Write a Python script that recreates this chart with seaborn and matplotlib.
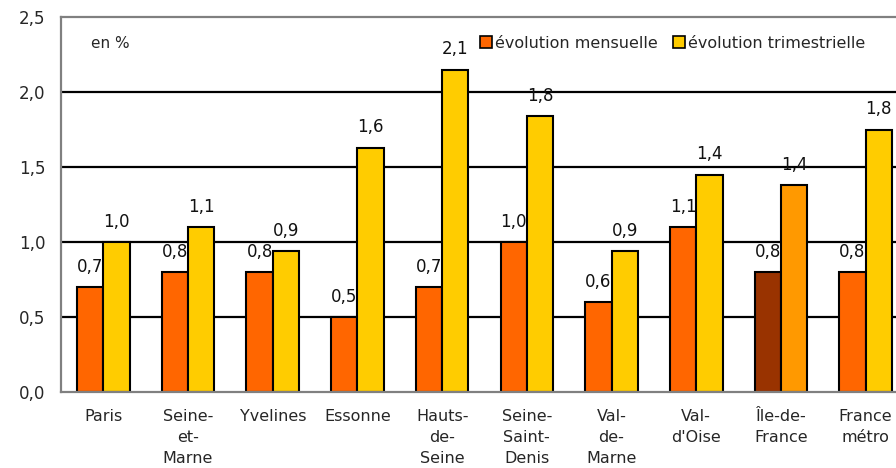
import matplotlib
matplotlib.use("Agg")
import matplotlib.pyplot as plt
import matplotlib.patches as mpatches
import seaborn as sns
import pandas as pd
import numpy as np

# Départements and aggregates, with their monthly / quarterly change (in %)
categories = ["Paris", "Seine-\net-\nMarne", "Yvelines", "Essonne", "Hauts-\nde-\nSeine",
              "Seine-\nSaint-\nDenis", "Val-\nde-\nMarne", "Val-\nd'Oise", "Île-de-\nFrance",
              "France\nmétro"]
mensuelle = [0.7, 0.8, 0.8, 0.5, 0.7, 1.0, 0.6, 1.1, 0.8, 0.8]
trimestrielle = [1.0, 1.1, 0.94, 1.63, 2.15, 1.84, 0.94, 1.45, 1.38, 1.75]
series_names = ["évolution mensuelle", "évolution trimestrielle"]
yticks = [0.0, 0.5, 1.0, 1.5, 2.0, 2.5]

series_colors = ["#FF6600", "#FFCC00"]
highlight_category = "Île-de-\nFrance"
highlight_colors = ["#993300", "#FF9900"]

df = pd.DataFrame({
    "zone": categories * 2,
    "serie": [series_names[0]] * len(categories) + [series_names[1]] * len(categories),
    "valeur": mensuelle + trimestrielle,
})

sns.set_style("white")
plt.rcParams["font.family"] = ["DejaVu Sans"]

fig = plt.figure(figsize=(8.96, 4.68), dpi=100)
ax = fig.add_axes([61 / 896, 76 / 468, 847 / 896, 375 / 468])

sns.barplot(data=df, x="zone", y="valeur", hue="serie", order=categories,
            hue_order=series_names, palette=series_colors, width=0.62,
            edgecolor="black", linewidth=1.5, saturation=1, legend=False, ax=ax)

# Highlight the regional aggregate with its own colours
hi = categories.index(highlight_category)
for k, cont in enumerate(ax.containers):
    cont.patches[hi].set_facecolor(highlight_colors[k])

# Value labels, French decimal comma
for cont in ax.containers:
    for bar in cont.patches:
        v = bar.get_height()
        ax.annotate(f"{v:.1f}".replace(".", ","),
                    (bar.get_x() + bar.get_width() / 2, v),
                    xytext=(0, 8), textcoords="offset points",
                    ha="center", va="bottom", fontsize=12, color="#111111")

ax.set_ylim(0, 2.5)
ax.set_xlim(-0.5, len(categories) - 0.5)
ax.set_yticks(yticks)
ax.set_yticklabels([f"{t:.1f}".replace(".", ",") for t in yticks], fontsize=12)
ax.set_xticks(range(len(categories)))
ax.set_xticklabels(categories, fontsize=11.5, linespacing=1.5, va="top")
ax.set_xticks(np.arange(-0.5, len(categories), 1), minor=True)
ax.tick_params(axis="x", which="major", length=0, pad=12)
ax.tick_params(axis="x", which="minor", length=5, width=1.2, color="#808080", direction="out")
ax.tick_params(axis="y", length=5, width=1.2, color="#808080", direction="out", pad=6)
ax.set_xlabel("")
ax.set_ylabel("")

for g in yticks[1:-1]:
    ax.axhline(g, color="black", linewidth=1.6, zorder=0.5)
ax.set_axisbelow(True)

for side in ["left", "bottom", "top"]:
    ax.spines[side].set_visible(True)
    ax.spines[side].set_color("#808080")
    ax.spines[side].set_linewidth(1.6)
ax.spines["right"].set_visible(False)

ax.text(0.035, 0.93, "en %", transform=ax.transAxes, fontsize=11, ha="left", va="center")

handles = [mpatches.Patch(facecolor=c, edgecolor="black", linewidth=1.2) for c in series_colors]
fig.legend(handles, series_names, loc="center left", bbox_to_anchor=(474 / 896, 1 - 43 / 468),
           ncol=2, frameon=False, fontsize=11.5, handlelength=0.7, handleheight=0.7,
           handletextpad=0.2, columnspacing=1.0, borderaxespad=0)

fig.savefig("out.png", dpi=100)
